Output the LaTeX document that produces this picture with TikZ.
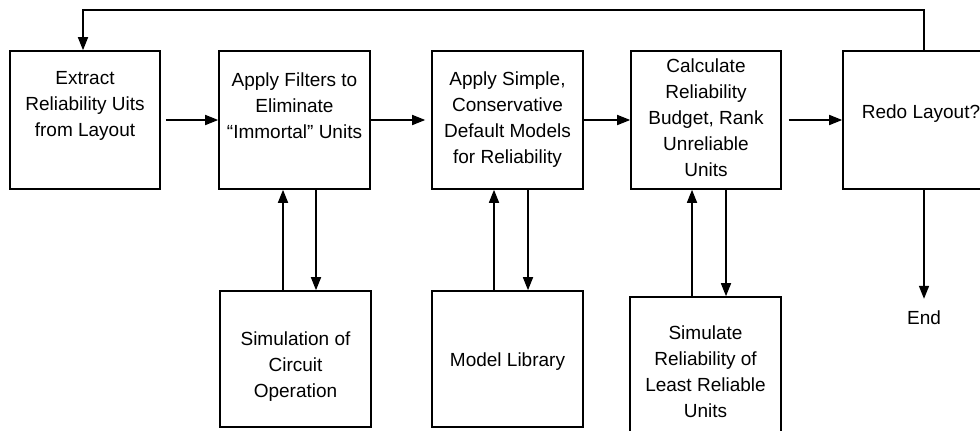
\documentclass[tikz,border=0pt]{standalone}
\usepackage{fontspec}
\setmainfont{Liberation Sans}
\usetikzlibrary{arrows.meta}
\begin{document}
\begin{tikzpicture}[x=1pt,y=-1pt,
  box/.style={draw,line width=1.6pt,rectangle,inner sep=0pt,minimum width=#1},
  box/.default=151pt,
  txt/.style={align=center,inner sep=0pt,font=\fontsize{19}{26}\selectfont},
  arr/.style={line width=1.6pt,-{Triangle[length=13pt,width=10pt]}},
  ln/.style={line width=1.6pt}]
\useasboundingbox (0,0) rectangle (980,431);
% top row boxes
\node[box=150pt,minimum height=138pt] (b1) at (85,120) {};
\node[box,minimum height=138pt] (b2) at (294.5,120) {};
\node[box,minimum height=138pt] (b3) at (507.5,120) {};
\node[box=150pt,minimum height=138pt] (b4) at (706,120) {};
\node[box=160pt,minimum height=138pt] (b5) at (923,120) {};
% bottom row boxes
\node[box,minimum height=136pt] (b6) at (295.5,359) {};
\node[box,minimum height=136pt] (b7) at (507.5,359) {};
\node[box,minimum height=148pt] (b8) at (705.5,371) {};
% texts
\node[txt] (t1) at (85,106) {Extract\\Reliability Uits\\from Layout};
\node[txt] (t2) at (294.5,106) {Apply Filters to\\Eliminate\\``Immortal'' Units};
\node[txt] (t3) at (507.5,120) {Apply Simple,\\Conservative\\Default Models\\for Reliability};
\node[txt] (t4) at (706,118) {Calculate\\Reliability\\Budget, Rank\\Unreliable\\Units};
\node[txt] (t5) at (921,114) {Redo Layout?};
\node[txt] (t6) at (295.5,367) {Simulation of\\Circuit\\Operation};
\node[txt] (t7) at (507.5,362) {Model Library};
\node[txt] (t8) at (705.5,371.5) {Simulate\\Reliability of\\Least Reliable\\Units};
\node[txt] (endn) at (924,318) {End};
% helper coordinates
\coordinate (lt) at (83,10);
\coordinate (rt) at (924,10);
\coordinate (u1) at (283,0);
\coordinate (d1) at (316,0);
\coordinate (u2) at (494,0);
\coordinate (d2) at (528,0);
\coordinate (u3) at (692,0);
\coordinate (d3) at (726,0);
% horizontal arrows
\draw[arr] ([xshift=5pt]b1.east) -- (b2.west);
\draw[arr,shorten >=6pt] (b2.east) -- (b3.west);
\draw[arr] (b3.east) -- (b4.west);
\draw[arr] ([xshift=7pt]b4.east) -- (b5.west);
% feedback loop
\draw[arr] (b5.north -| rt) -- (rt) -- (lt) -- (b1.north -| lt);
% vertical pairs
\draw[arr] (b6.north -| u1) -- (b2.south -| u1);
\draw[arr] (b2.south -| d1) -- (b6.north -| d1);
\draw[arr] (b7.north -| u2) -- (b3.south -| u2);
\draw[arr] (b3.south -| d2) -- (b7.north -| d2);
\draw[arr] (b8.north -| u3) -- (b4.south -| u3);
\draw[arr] (b4.south -| d3) -- (b8.north -| d3);
% end
\draw[arr,shorten >=12pt] (b5.south -| rt) -- (endn.north);
\end{tikzpicture}
\end{document}
